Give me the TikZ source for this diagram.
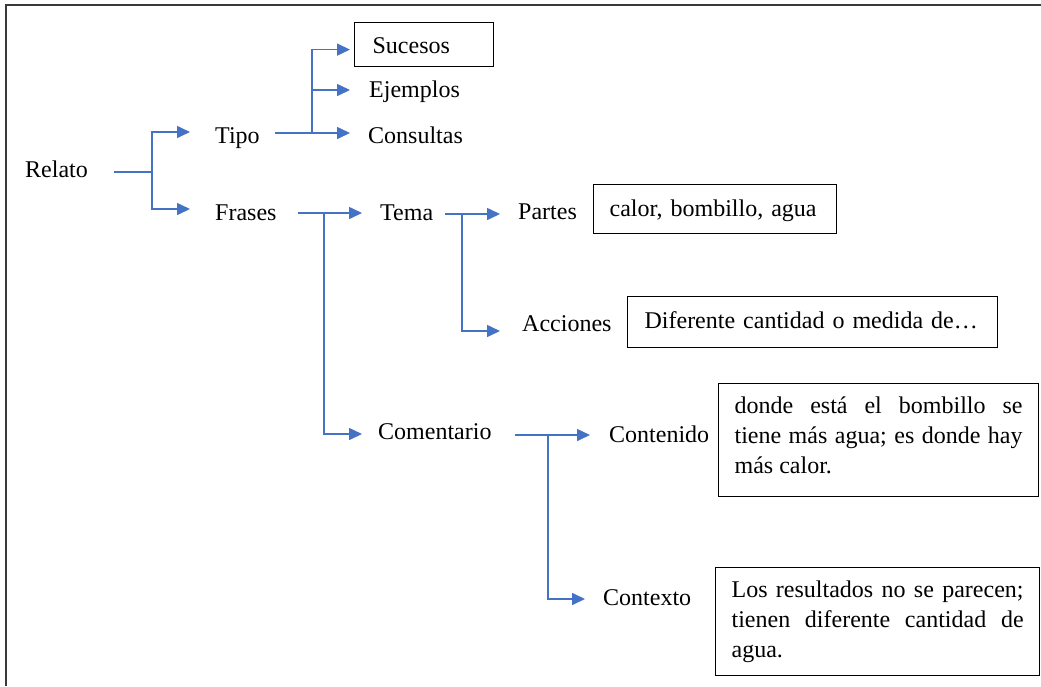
\documentclass[tikz,border=0pt]{standalone}
\usepackage{fontspec}
\setmainfont{Liberation Serif}
\usetikzlibrary{arrows.meta}
\definecolor{linkblue}{HTML}{4472C4}
\definecolor{framegray}{HTML}{3A3A3A}
\newcommand{\nobreakjust}{\hyphenpenalty=10000\exhyphenpenalty=10000\tolerance=9999\frenchspacing\spaceskip=0.25em plus 0.6em minus 0em\relax}
\begin{document}
\begin{tikzpicture}[x=1pt,y=-1pt,
  lbl/.style={inner sep=0pt,anchor=base west,font=\fontsize{24}{30}\selectfont},
  boxnode/.style={draw=black,line width=1.2pt,inner ysep=0pt,inner xsep=16pt,anchor=north west,
    font=\fontsize{24}{30}\selectfont},
  ln/.style={draw=linkblue,line width=1.6pt},
  arr/.style={ln,-{Triangle[length=13pt,width=12pt]}},
  framestyle/.style={draw=framegray,line width=2pt}]
\useasboundingbox (0,0) rectangle (1041,686);
\draw[framestyle] (1041,5) -- (6,5) -- (6,686);

% labels
\node[lbl] (relato) at (25,177) {Relato};
\node[lbl] (tipo) at (215,143) {Tipo};
\node[lbl] (frases) at (215,220) {Frases};
\node[lbl] (ejemplos) at (369,97) {Ejemplos};
\node[lbl] (consultas) at (368,143) {Consultas};
\node[lbl] (tema) at (380,220) {Tema};
\node[lbl] (comentario) at (378,439) {Comentario};
\node[lbl] (partes) at (518,219) {Partes};
\node[lbl] (acciones) at (522,331) {Acciones};
\node[lbl] (contenido) at (609,442) {Contenido};
\node[lbl] (contexto) at (603,605) {Contexto};

% boxes
\node[boxnode,inner xsep=18pt,text width=103pt,align=left,text height=31pt,text depth=13pt] (sucesos) at (354,22) {Sucesos};
\node[boxnode,text width=211pt,align=left,text height=32pt,text depth=17pt] (partesbox) at (593,184) {calor, bombillo, agua};
\node[boxnode,inner xsep=17pt,text width=336pt,align=left,text height=32pt,text depth=19pt] (accionesbox) at (627,296) {Diferente cantidad o medida de…};
\node[boxnode,text width=288pt,align=justify,text height=30pt,text depth=83pt] (contenidobox) at (718,383)
  {\nobreakjust donde está el bombillo se tiene más agua; es donde hay más calor.};
\node[boxnode,text width=292pt,align=justify,text height=30pt,text depth=78pt] (contextobox) at (715,567)
  {\nobreakjust Los resultados no se parecen; tienen diferente cantidad de agua.};

% connectors: Relato
\coordinate (j1) at (152,172);
\draw[ln] ([xshift=26pt,yshift=5pt]relato.base east) -- (j1);
\draw[arr] (j1) |- ([xshift=-25pt,yshift=11pt]tipo.base west);
\draw[arr] (j1) |- ([xshift=-25pt,yshift=11pt]frases.base west);

% Tipo
\coordinate (j2) at (312,133);
\draw[ln] ([xshift=15pt,yshift=10pt]tipo.base east) -- (j2);
\draw[arr] (j2) |- ([xshift=-4pt,yshift=-5pt]sucesos.west);
\draw[arr] (j2) |- ([xshift=-19pt,yshift=7pt]ejemplos.base west);
\draw[arr] (j2) |- ([xshift=-18pt,yshift=10pt]consultas.base west);

% Frases
\coordinate (j3) at (324,213);
\draw[arr] ([xshift=21pt,yshift=7pt]frases.base east) -- ([xshift=-18pt,yshift=7pt]tema.base west);
\draw[arr] (j3) |- ([xshift=-16pt,yshift=5pt]comentario.base west);

% Tema
\coordinate (j4) at (462,214);
\draw[arr] ([xshift=12pt,yshift=6pt]tema.base east) -- ([xshift=-18pt,yshift=5pt]partes.base west);
\draw[arr] (j4) |- ([xshift=-22pt,yshift=0pt]acciones.base west);

% Comentario
\coordinate (j5) at (548,435);
\draw[arr] ([xshift=23pt,yshift=4pt]comentario.base east) -- ([xshift=-19pt,yshift=7pt]contenido.base west);
\draw[arr] (j5) |- ([xshift=-18pt,yshift=6pt]contexto.base west);
\end{tikzpicture}
\end{document}
